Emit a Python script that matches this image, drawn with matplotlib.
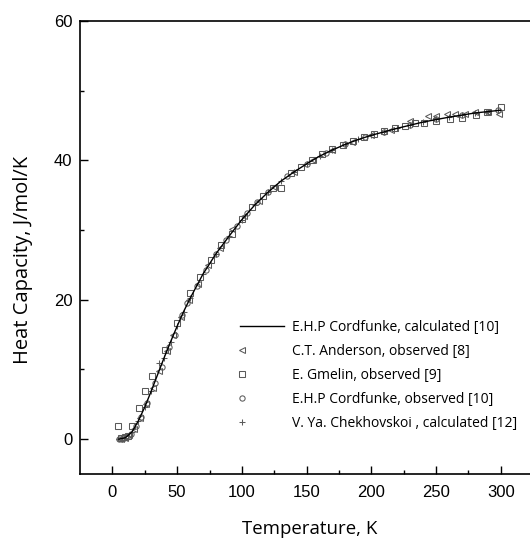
import numpy as np
import matplotlib
matplotlib.use("Agg")
import matplotlib.pyplot as plt
from matplotlib.legend_handler import HandlerLine2D

# E.H.P Cordfunke, calculated [10]
T_calc = [5, 10, 15, 20, 25, 30, 35, 40, 45, 50, 55, 60, 70, 80, 90, 100,
          110, 120, 130, 140, 150, 160, 170, 180, 190, 200, 220, 240, 260,
          280, 300]
Cp_calc = [0.0, 0.2, 1.0, 2.6, 4.6, 6.9, 9.3, 11.7, 14.0, 16.2, 18.3, 20.2,
           23.7, 26.6, 29.1, 31.5, 33.6, 35.4, 37.0, 38.3, 39.5, 40.6, 41.5,
           42.3, 43.0, 43.6, 44.6, 45.5, 46.2, 46.8, 47.2]

# C.T. Anderson, observed [8]
T_anderson = [5, 7, 10, 13, 17, 21, 26, 31, 36, 42, 47, 53, 59, 66, 74, 83,
              92, 102, 113, 125, 140, 155, 170, 185, 200, 215, 230, 244, 250,
              258.5, 265, 272, 280, 290, 298.5]
Cp_anderson = [0.0, 0.05, 0.2, 0.6, 1.5, 3.0, 5.0, 7.4, 9.8, 12.6, 14.9,
               17.5, 19.9, 22.3, 25.0, 27.4, 30.1, 32.0, 34.2, 36.2, 38.3,
               40.1, 41.5, 42.6, 43.6, 44.4, 45.6, 46.4, 46.4, 46.6, 46.6,
               46.7, 46.9, 47.0, 46.6]

# E. Gmelin, observed [9]
T_gmelin = [4.3, 7, 9.5, 12, 15.2, 20.3, 25.5, 30.6, 40.4, 50, 60.3, 68, 76,
            84, 92, 100, 108, 116, 124, 130.3, 138, 146, 154, 162, 170, 178,
            186, 194, 202, 210, 218, 226, 234, 240.5, 249.6, 261, 270, 280.5,
            289.5, 300]
Cp_gmelin = [1.9, 0.1, 0.3, 0.5, 1.9, 4.5, 6.9, 9.1, 12.8, 16.6, 21.0, 23.3,
             25.7, 27.8, 29.5, 31.6, 33.3, 34.9, 36.1, 36.0, 38.2, 39.1, 40.1,
             40.9, 41.6, 42.2, 42.8, 43.3, 43.8, 44.2, 44.6, 45.0, 45.3, 45.4,
             45.6, 45.9, 46.1, 46.5, 46.9, 47.6]

# E.H.P Cordfunke, observed [10]
T_cord_obs = [5, 8, 11, 14, 18, 22, 27, 33, 38, 44, 48, 54, 58, 65, 72, 80,
              88, 96, 104, 112, 120, 135, 150, 165, 180, 195, 210, 230, 250,
              270, 290, 298]
Cp_cord_obs = [0.0, 0.1, 0.3, 0.8, 1.9, 3.2, 5.2, 8.0, 10.4, 13.2, 15.0, 17.8,
               19.5, 22.0, 24.3, 26.6, 28.6, 30.6, 32.4, 34.0, 35.4, 37.7,
               39.5, 41.1, 42.3, 43.3, 44.1, 45.1, 45.9, 46.5, 47.0, 47.2]

# V. Ya. Chekhovskoi, calculated [12]
T_chek = [10, 15, 20, 25, 30, 35.8, 40, 45, 50, 55, 60, 70, 80, 90, 100, 110,
          120, 130, 140, 150, 160, 170, 180, 190, 200, 210, 220, 230, 240,
          250, 260, 270, 280, 290, 298]
Cp_chek = [0.2, 1.0, 2.6, 4.6, 6.9, 10.9, 11.7, 14.0, 16.2, 18.3, 20.2, 23.7,
           26.6, 29.1, 31.5, 33.6, 35.4, 37.0, 38.3, 39.5, 40.6, 41.5, 42.3,
           43.0, 43.6, 44.1, 44.6, 45.1, 45.5, 45.9, 46.2, 46.5, 46.8, 47.0,
           47.2]

GREY = "#5a5a5a"


class LeftMarkerHandler(HandlerLine2D):
    # marker sits at the left end of the handle rather than in the middle
    def get_xdata(self, legend, xdescent, ydescent, width, height, fontsize):
        x0 = -xdescent + 0.05 * width
        return np.array([x0, x0 + 0.01]), np.array([x0])


fig = plt.figure(figsize=(5.30, 5.45), dpi=100)
ax = fig.add_axes([0.151, 0.1303, 0.855, 0.8312])

ax.plot(T_calc, Cp_calc, color="black", lw=1.0, zorder=3,
        label="E.H.P Cordfunke, calculated [10]")
ax.plot(T_anderson, Cp_anderson, ls="none", marker="<", ms=3.8, mfc="none",
        mec=GREY, mew=0.75, label="C.T. Anderson, observed [8]")
ax.plot(T_gmelin, Cp_gmelin, ls="none", marker="s", ms=4.0, mfc="none",
        mec=GREY, mew=0.75, label="E. Gmelin, observed [9]")
ax.plot(T_cord_obs, Cp_cord_obs, ls="none", marker="o", ms=3.8, mfc="none",
        mec=GREY, mew=0.75, label="E.H.P Cordfunke, observed [10]")
ax.plot(T_chek, Cp_chek, ls="none", marker="+", ms=4.2, color=GREY,
        mew=0.75, label="V. Ya. Chekhovskoi , calculated [12]")

ax.set_xlim(-25, 325)
ax.set_ylim(-5, 60)
ax.set_xticks([0, 50, 100, 150, 200, 250, 300])
ax.set_xticks(np.arange(25, 325, 50), minor=True)
ax.set_yticks([0, 20, 40, 60])
ax.set_yticks([10, 30, 50], minor=True)

for side in ("left", "bottom", "top"):
    ax.spines[side].set_linewidth(1.2)
ax.spines["right"].set_visible(False)

ax.tick_params(which="both", direction="in", width=1.0)
ax.tick_params(which="major", length=5.5)
ax.tick_params(which="minor", length=3)
ax.tick_params(axis="y", pad=5.5)
ax.tick_params(axis="x", pad=8)
for lab in ax.get_xticklabels() + ax.get_yticklabels():
    lab.set_fontfamily("Liberation Sans")
    lab.set_fontsize(12)

ax.set_xlabel("Temperature, K", fontfamily="Open Sans", fontsize=13.4)
ax.set_ylabel("Heat Capacity, J/mol/K", fontfamily="Open Sans",
              fontsize=14.5)
ax.xaxis.set_label_coords((310 - 80) / 453, -(520 - 474) / 453)
ax.yaxis.set_label_coords(-(80 - 33) / 453, (474 - 260) / 453)

handles, labels = ax.get_legend_handles_labels()
leg = ax.legend(handles, labels, loc="upper left",
                bbox_to_anchor=(240 / 530, 1 - 320 / 545),
                bbox_transform=fig.transFigure, frameon=False,
                borderpad=0, borderaxespad=0, handlelength=3.2,
                handletextpad=0.55, labelspacing=0.65, markerscale=1.0,
                prop={"family": "Open Sans", "size": 10},
                handler_map={h: LeftMarkerHandler() for h in handles[1:]})

fig.savefig("out.png", dpi=100)
